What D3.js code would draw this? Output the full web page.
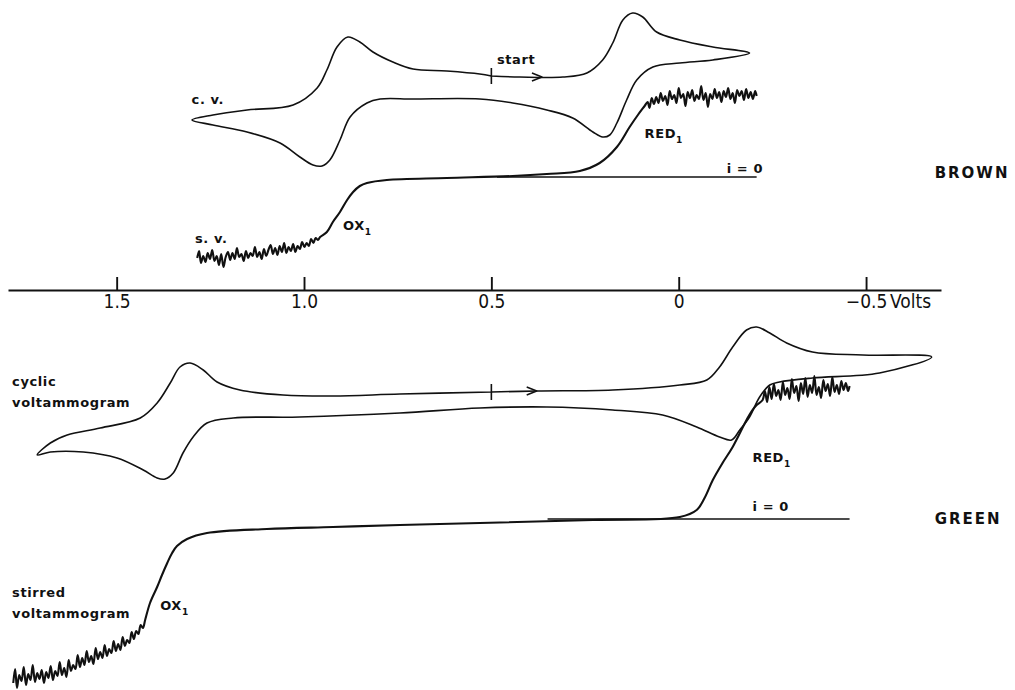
<!DOCTYPE html>
<html>
<head>
  <meta charset="utf-8">
  <title>Cyclic and stirred voltammograms, BROWN and GREEN</title>
  <style>
  body { margin: 0; background: #fff; }
  .trace { fill: none; stroke: #111; stroke-width: 1.6; stroke-linejoin: round; }
  .noisy { stroke-width: 2.1; }
  .lbl { font-family: "DejaVu Sans", sans-serif; font-weight: bold; font-size: 13px; fill: #111; letter-spacing: 0.6px; }
  .name { font-family: "DejaVu Sans", sans-serif; font-weight: bold; font-size: 15px; fill: #111; letter-spacing: 2px; }
  .axis text { font-family: "Liberation Sans Narrow", "DejaVu Sans Condensed", sans-serif; font-size: 19px; fill: #111; }
  .axis path, .axis line { stroke: #111; stroke-width: 1.9; }
  </style>
</head>
<body>
  <div id="chart"></div>
  <script src="https://d3js.org/d3.v7.min.js"></script>
  <script>
    var width = 1015;
    var height = 690;

    // potential axis (volts)
    var voltTicks = [1.5, 1.0, 0.5, 0, -0.5];
    var tickLabels = ["1.5", "1.0", "0.5", "0", "\u22120.5"];

    // BROWN: cyclic voltammogram [volts, current], scan from start tick
    var brownCV = [
      [0.50, 10.1], [0.424, 10.0], [0.309, 10.0], [0.245, 10.4], [0.203, 11.7], [0.176, 13.4],
      [0.149, 15.7], [0.123, 16.4], [0.096, 16.0], [0.059, 14.5], [-0.003, 13.7], [-0.091, 13.0],
      [-0.189, 12.4],
      [-0.091, 11.7], [-0.003, 11.4], [0.069, 11.0], [0.112, 9.7], [0.139, 7.7], [0.165, 5.4],
      [0.184, 4.2], [0.203, 4.0], [0.229, 4.5], [0.283, 5.9], [0.352, 6.7], [0.443, 7.4],
      [0.531, 7.8], [0.709, 7.8], [0.797, 7.8], [0.832, 7.4], [0.877, 6.0], [0.904, 3.7],
      [0.931, 1.7], [0.952, 1.1], [0.976, 1.2], [1.011, 2.0], [1.064, 3.4], [1.152, 4.5],
      [1.243, 5.2], [1.299, 5.7],
      [1.243, 6.2], [1.152, 6.7], [1.029, 7.2], [0.965, 8.9], [0.939, 10.7], [0.912, 13.0],
      [0.883, 14.0], [0.851, 13.5], [0.816, 12.5], [0.763, 11.5], [0.709, 10.8], [0.619, 10.6],
      [0.531, 10.3], [0.50, 10.1]
    ];

    // BROWN: stirred voltammogram [volts, current]
    var brownSV = [
      [1.285, -8.1], [1.280, -7.4], [1.275, -8.6], [1.269, -7.9], [1.263, -8.5], [1.257, -7.6],
      [1.251, -8.2], [1.245, -7.3], [1.239, -8.4], [1.233, -7.9], [1.227, -8.8], [1.221, -7.7],
      [1.215, -9.0], [1.209, -8.0], [1.203, -7.5], [1.197, -8.3], [1.191, -7.6], [1.185, -8.2],
      [1.179, -7.1], [1.173, -8.0], [1.167, -7.7], [1.161, -8.4], [1.155, -7.4], [1.149, -8.1],
      [1.143, -7.6], [1.137, -7.9], [1.131, -7.0], [1.125, -8.0], [1.119, -7.5], [1.113, -8.2],
      [1.107, -7.2], [1.101, -7.9], [1.095, -7.3], [1.089, -6.8], [1.083, -7.7], [1.077, -7.1],
      [1.071, -7.8], [1.065, -6.9], [1.059, -7.5], [1.053, -6.6], [1.047, -7.6], [1.041, -7.0],
      [1.035, -7.4], [1.029, -6.7], [1.023, -7.5], [1.017, -6.9], [1.011, -7.2], [1.005, -6.5],
      [0.999, -7.0], [0.993, -6.6], [0.987, -6.9], [0.981, -6.2], [0.975, -6.6], [0.969, -6.1],
      [0.963, -6.3],
      [0.957, -6.0], [0.939, -5.5], [0.923, -4.5], [0.904, -3.5], [0.885, -2.3], [0.869, -1.5],
      [0.851, -0.9], [0.832, -0.6], [0.779, -0.3], [0.619, -0.1], [0.443, 0.1], [0.352, 0.3],
      [0.264, 0.6], [0.211, 1.4], [0.165, 3.0], [0.131, 5.0], [0.109, 6.2], [0.091, 7.1],
      [0.083, 7.5], [0.078, 6.9], [0.072, 7.9], [0.066, 7.3], [0.060, 8.0], [0.054, 7.4],
      [0.048, 8.4], [0.042, 7.6], [0.036, 8.1], [0.030, 7.2], [0.024, 8.6], [0.018, 7.8],
      [0.012, 8.2], [0.006, 7.4], [0.000, 8.9], [-0.006, 7.9], [-0.012, 8.3], [-0.018, 7.1],
      [-0.024, 8.5], [-0.030, 7.9], [-0.036, 8.7], [-0.042, 7.6], [-0.048, 8.2], [-0.054, 7.8],
      [-0.060, 9.1], [-0.066, 7.7], [-0.072, 8.4], [-0.078, 7.0], [-0.084, 8.3], [-0.090, 7.8],
      [-0.096, 8.8], [-0.102, 7.9], [-0.108, 8.5], [-0.114, 7.5], [-0.120, 8.6], [-0.126, 8.0],
      [-0.132, 8.9], [-0.138, 7.8], [-0.144, 8.4], [-0.150, 7.4], [-0.156, 8.7], [-0.162, 8.1],
      [-0.168, 8.6], [-0.174, 7.7], [-0.180, 8.8], [-0.186, 7.9], [-0.192, 8.5], [-0.198, 7.8],
      [-0.204, 8.6], [-0.208, 8.1]
    ];

    // GREEN: cyclic voltammogram [volts, current]
    var greenCV = [
      [0.50, 12.7], [0.379, 12.8], [0.176, 12.9], [-0.003, 13.4], [-0.075, 13.9], [-0.109, 15.2],
      [-0.144, 17.2], [-0.181, 18.9], [-0.208, 19.2], [-0.243, 18.6], [-0.288, 17.6], [-0.357, 16.7],
      [-0.491, 16.4], [-0.675, 16.2],
      [-0.536, 14.6], [-0.357, 14.1], [-0.269, 13.7], [-0.243, 13.4], [-0.216, 12.2], [-0.189, 10.2],
      [-0.163, 8.9], [-0.141, 7.9], [-0.109, 8.2], [-0.048, 9.2], [0.043, 10.4], [0.176, 10.9],
      [0.352, 11.2], [0.531, 11.1], [0.744, 10.6], [1.011, 10.2], [1.189, 10.1], [1.259, 9.6],
      [1.296, 8.2], [1.323, 6.6], [1.349, 4.6], [1.371, 4.0], [1.392, 4.1], [1.429, 4.9],
      [1.499, 6.1], [1.589, 6.7], [1.677, 6.7], [1.712, 6.4],
      [1.677, 7.6], [1.632, 8.4], [1.544, 9.1], [1.437, 10.1], [1.392, 11.6], [1.357, 13.6],
      [1.331, 15.2], [1.304, 15.6], [1.269, 14.9], [1.232, 13.7], [1.171, 12.9], [1.056, 12.4],
      [0.923, 12.3], [0.744, 12.5], [0.50, 12.7]
    ];

    // GREEN: stirred voltammogram [volts, current]
    var greenSV = [
      [1.776, -16.4], [1.771, -15.0], [1.766, -16.9], [1.760, -15.6], [1.754, -16.2], [1.748, -14.8],
      [1.742, -16.6], [1.736, -15.5], [1.730, -16.1], [1.724, -14.6], [1.718, -16.3], [1.712, -15.4],
      [1.706, -16.0], [1.700, -15.1], [1.694, -16.4], [1.688, -15.3], [1.682, -15.9], [1.676, -14.7],
      [1.670, -16.1], [1.664, -15.2], [1.658, -15.7], [1.652, -14.3], [1.646, -15.6], [1.640, -14.9],
      [1.634, -15.8], [1.628, -14.1], [1.622, -15.2], [1.616, -14.6], [1.610, -15.0], [1.604, -13.6],
      [1.598, -14.8], [1.592, -13.9], [1.586, -14.6], [1.580, -13.2], [1.574, -14.3], [1.568, -13.7],
      [1.562, -14.5], [1.556, -12.9], [1.550, -14.0], [1.544, -13.3], [1.538, -13.9], [1.532, -12.6],
      [1.526, -13.7], [1.520, -13.0], [1.514, -13.4], [1.508, -12.2], [1.502, -13.2], [1.496, -12.5],
      [1.490, -13.1], [1.484, -11.8], [1.478, -12.7], [1.472, -12.1], [1.466, -12.4], [1.460, -11.3],
      [1.454, -12.0], [1.448, -11.2], [1.442, -11.5], [1.436, -10.6], [1.430, -10.9], [1.424, -10.1],
      [1.411, -8.4], [1.392, -6.8], [1.379, -5.6], [1.365, -4.4], [1.352, -3.4], [1.339, -2.7],
      [1.312, -2.0], [1.259, -1.4], [1.099, -1.0], [0.923, -0.8], [0.744, -0.6], [0.229, -0.1],
      [-0.003, 0.2], [-0.048, 0.9], [-0.069, 2.1], [-0.091, 3.9], [-0.117, 5.6], [-0.144, 7.2],
      [-0.181, 9.9], [-0.195, 10.8], [-0.208, 11.4], [-0.224, 11.9],
      [-0.230, 12.8], [-0.236, 11.7], [-0.242, 13.2], [-0.248, 12.0], [-0.254, 13.5], [-0.260, 12.3],
      [-0.266, 12.9], [-0.272, 11.9], [-0.278, 13.7], [-0.284, 12.4], [-0.290, 13.1], [-0.296, 12.0],
      [-0.302, 14.0], [-0.308, 12.6], [-0.314, 13.3], [-0.320, 11.8], [-0.326, 13.6], [-0.332, 12.5],
      [-0.338, 14.1], [-0.344, 12.2], [-0.350, 13.4], [-0.356, 12.6], [-0.362, 14.3], [-0.368, 12.4],
      [-0.374, 13.2], [-0.380, 12.1], [-0.386, 13.9], [-0.392, 12.8], [-0.398, 13.5], [-0.404, 12.3],
      [-0.410, 14.2], [-0.416, 12.7], [-0.422, 13.4], [-0.428, 12.5], [-0.434, 13.8], [-0.440, 12.9],
      [-0.446, 13.6], [-0.452, 12.8], [-0.456, 13.3]
    ];

    // zero-current lines [from volts, to volts], scan start and arrow position
    var brownZero = [0.485, -0.208];
    var greenZero = [0.35, -0.456];
    var startV = 0.5;
    var brownArrow = [0.365, 10.0];
    var greenArrow = [0.379, 12.8];

    var svg = d3.select("#chart").append("svg")
        .attr("width", width)
        .attr("height", height);

    var x = d3.scaleLinear()
        .domain([1.79, -0.70])
        .range([8, 941]);

    var yBrown = d3.scaleLinear().domain([0, 10]).range([177, 77]);
    var yGreen = d3.scaleLinear().domain([0, 10]).range([519, 419]);

    function drawPanel(cv, sv, zero, arrow, y) {
      var line = d3.line()
          .x(function(d) { return x(d[0]); })
          .y(function(d) { return y(d[1]); })
          .curve(d3.curveCatmullRom.alpha(0.5));

      svg.append("path")
          .datum(cv)
          .attr("class", "trace")
          .attr("d", line);

      svg.append("path")
          .datum(sv)
          .attr("class", "trace noisy")
          .attr("d", line);

      svg.append("line")
          .attr("class", "trace")
          .attr("x1", x(zero[0])).attr("x2", x(zero[1]))
          .attr("y1", y(0)).attr("y2", y(0));

      // start tick
      var sy = y(cv[0][1]);
      svg.append("line")
          .attr("class", "trace")
          .attr("x1", x(startV)).attr("x2", x(startV))
          .attr("y1", sy - 8).attr("y2", sy + 8);

      // scan direction arrow
      var ax = x(arrow[0]), ay = y(arrow[1]);
      svg.append("path")
          .attr("class", "trace")
          .attr("d", "M" + (ax - 10) + "," + (ay - 4) + "L" + ax + "," + ay + "L" + (ax - 10) + "," + (ay + 4));
    }

    drawPanel(brownCV, brownSV, brownZero, brownArrow, yBrown);
    drawPanel(greenCV, greenSV, greenZero, greenArrow, yGreen);

    // potential axis
    svg.append("g")
        .attr("class", "axis")
        .attr("transform", "translate(0,290)")
        .call(d3.axisBottom(x)
          .tickValues(voltTicks)
          .tickFormat(function(d, i) { return tickLabels[i]; })
          .tickSizeInner(-13)
          .tickSizeOuter(0)
          .tickPadding(5));

    svg.select(".axis").append("text")
        .attr("x", x(-0.5) + 24)
        .attr("y", 5)
        .attr("dy", "0.71em")
        .attr("text-anchor", "start")
        .text("Volts");

    // annotations placed in data coordinates
    function label(txt, v, i, y, cls, sub) {
      var t = svg.append("text")
          .attr("class", cls || "lbl")
          .attr("x", x(v))
          .attr("y", y(i))
          .text(txt);
      if (sub) {
        t.append("tspan").attr("dy", 5).attr("font-size", "9px").text(sub);
      }
    }

    label("c. v.", 1.30, 7.3, yBrown);
    label("start", 0.485, 11.3, yBrown);
    label("RED", 0.091, 3.9, yBrown, "lbl", "1");
    label("s. v.", 1.291, -6.6, yBrown);
    label("OX", 0.896, -5.3, yBrown, "lbl", "1");
    label("i = 0", -0.128, 0.4, yBrown);
    label("BROWN", -0.683, -0.1, yBrown, "name");

    label("cyclic", 1.779, 13.3, yGreen);
    label("voltammogram", 1.779, 11.2, yGreen);
    label("RED", -0.197, 5.7, yGreen, "lbl", "1");
    label("i = 0", -0.197, 0.8, yGreen);
    label("GREEN", -0.683, -0.5, yGreen, "name");
    label("stirred", 1.779, -7.8, yGreen);
    label("voltammogram", 1.779, -9.9, yGreen);
    label("OX", 1.384, -9.1, yGreen, "lbl", "1");
  </script>
</body>
</html>
